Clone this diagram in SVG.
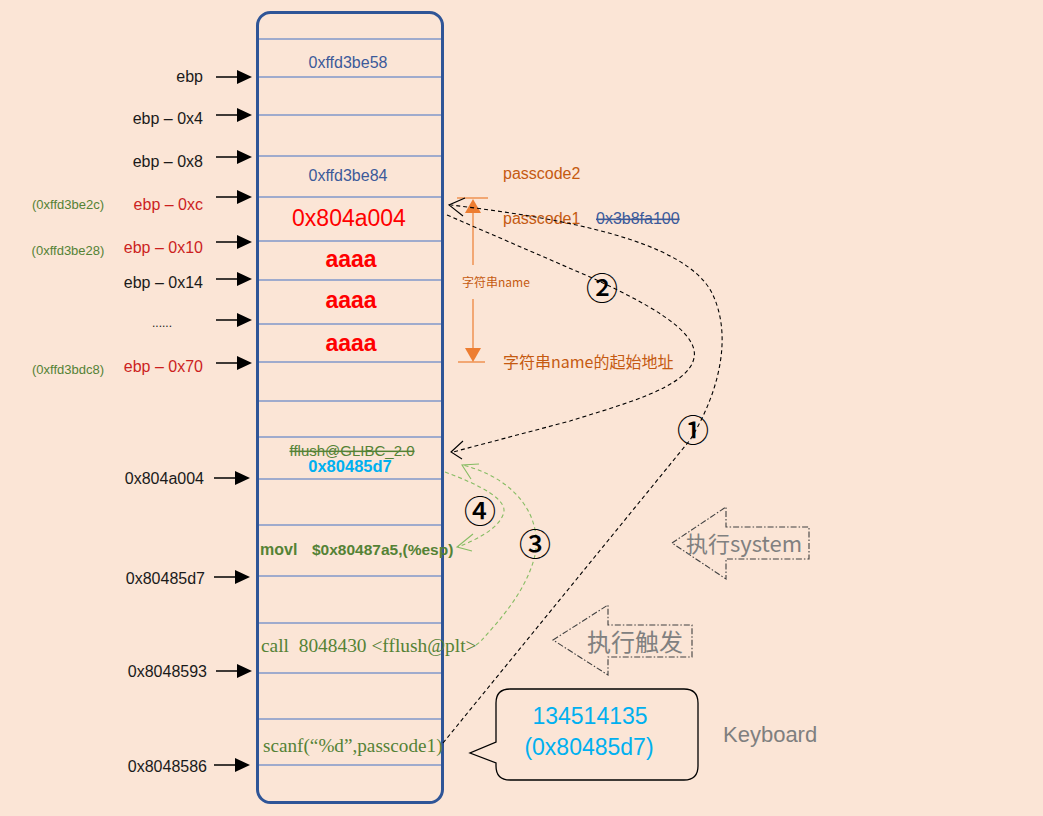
<svg xmlns="http://www.w3.org/2000/svg" width="1043" height="816" viewBox="0 0 1043 816">
<defs>
<style>
.s{font-family:"Liberation Sans",Arial,sans-serif}
.sr{font-family:"Liberation Serif","Times New Roman",serif}
.cj{font-family:"Noto Sans CJK SC",sans-serif}
.lbl{font-size:16px;fill:#1a1a1a;text-anchor:end}
.red{fill:#CC1F1F}
.addr{font-size:13px;fill:#548235;text-anchor:middle}
.row{stroke:#4472C4;stroke-width:1.2}
.la{stroke:#000;stroke-width:1.5}
.dash{fill:none;stroke:#000;stroke-width:1.1;stroke-dasharray:4 3}
.gdash{fill:none;stroke:#86BC63;stroke-width:1.1;stroke-dasharray:4 3}
.head{fill:none;stroke:#000;stroke-width:1.1}
.ghead{fill:none;stroke:#86BC63;stroke-width:1.1}
.num{font-size:32px;fill:#000;text-anchor:middle;font-weight:500}
.blk{fill:none;stroke:#404040;stroke-width:1.1;stroke-dasharray:6 2 1.5 2}
.or{stroke:#ED7D31;stroke-width:1.2}
</style>
</defs>
<rect width="1043" height="816" fill="#FBE5D6"/>

<g id="stack">
<rect x="257.5" y="12.5" width="185" height="790" rx="13" fill="none" stroke="#2F5597" stroke-width="3"/>
<g class="row">
<line x1="259" y1="39" x2="441" y2="39"/>
<line x1="259" y1="77" x2="441" y2="77"/>
<line x1="259" y1="115" x2="441" y2="115"/>
<line x1="259" y1="156" x2="441" y2="156"/>
<line x1="259" y1="197" x2="441" y2="197"/>
<line x1="259" y1="241" x2="441" y2="241"/>
<line x1="259" y1="280" x2="441" y2="280"/>
<line x1="259" y1="324" x2="441" y2="324"/>
<line x1="259" y1="362" x2="441" y2="362"/>
<line x1="259" y1="401" x2="441" y2="401"/>
<line x1="259" y1="437" x2="441" y2="437"/>
<line x1="259" y1="479" x2="441" y2="479"/>
<line x1="259" y1="525" x2="441" y2="525"/>
<line x1="259" y1="576" x2="441" y2="576"/>
<line x1="259" y1="623" x2="441" y2="623"/>
<line x1="259" y1="673" x2="441" y2="673"/>
<line x1="259" y1="719" x2="441" y2="719"/>
<line x1="259" y1="765" x2="441" y2="765"/>
</g>
<text class="s" x="348" y="68" font-size="16" fill="#3C5A9A" text-anchor="middle">0xffd3be58</text>
<text class="s" x="348" y="181" font-size="16" fill="#3C5A9A" text-anchor="middle">0xffd3be84</text>
<text class="s" x="349" y="226" font-size="23" fill="#FF0000" text-anchor="middle">0x804a004</text>
<text class="s" x="351" y="267" font-size="23" font-weight="bold" fill="#FF0000" text-anchor="middle">aaaa</text>
<text class="s" x="351" y="308" font-size="23" font-weight="bold" fill="#FF0000" text-anchor="middle">aaaa</text>
<text class="s" x="351" y="351" font-size="23" font-weight="bold" fill="#FF0000" text-anchor="middle">aaaa</text>
<text class="s" x="352" y="456" font-size="15" fill="#548235" text-anchor="middle" text-decoration="line-through">fflush@GLIBC_2.0</text>
<text class="s" x="350" y="472" font-size="16.5" font-weight="bold" fill="#00B0F0" text-anchor="middle">0x80485d7</text>
<text class="s" x="260" y="555" font-size="16" font-weight="bold" fill="#548235">movl</text>
<text class="s" x="312" y="555" font-size="15.5" font-weight="bold" fill="#548235">$0x80487a5,(%esp)</text>
<text class="sr" x="261" y="652" font-size="19.4" fill="#548235" xml:space="preserve">call  8048430 &lt;fflush@plt&gt;</text>
<text class="sr" x="263" y="752" font-size="19.2" fill="#548235">scanf(“%d”,passcode1)</text>
</g>

<g id="left-labels">
<g class="la">
<line x1="216" y1="77" x2="238" y2="77"/>
<line x1="216" y1="115" x2="238" y2="115"/>
<line x1="216" y1="157" x2="238" y2="157"/>
<line x1="216" y1="197" x2="238" y2="197"/>
<line x1="216" y1="242" x2="238" y2="242"/>
<line x1="216" y1="279" x2="238" y2="279"/>
<line x1="216" y1="320" x2="238" y2="320"/>
<line x1="216" y1="363" x2="238" y2="363"/>
<line x1="214" y1="478" x2="236" y2="478"/>
<line x1="214" y1="577" x2="236" y2="577"/>
<line x1="216" y1="671" x2="238" y2="671"/>
<line x1="214" y1="765" x2="236" y2="765"/>
</g>
<g fill="#000">
<polygon points="237,70 252,77 237,84"/>
<polygon points="237,108 252,115 237,122"/>
<polygon points="237,150 252,157 237,164"/>
<polygon points="237,190 252,197 237,204"/>
<polygon points="237,235 252,242 237,249"/>
<polygon points="237,272 252,279 237,286"/>
<polygon points="237,313 252,320 237,327"/>
<polygon points="237,356 252,363 237,370"/>
<polygon points="235,471 250,478 235,485"/>
<polygon points="235,570 250,577 235,584"/>
<polygon points="237,664 252,671 237,678"/>
<polygon points="235,758 250,765 235,772"/>
</g>
<text class="s lbl" x="203" y="82">ebp</text>
<text class="s lbl" x="203" y="124">ebp – 0x4</text>
<text class="s lbl" x="203" y="167">ebp – 0x8</text>
<text class="s lbl red" x="203" y="210">ebp – 0xc</text>
<text class="s lbl red" x="203" y="253">ebp – 0x10</text>
<text class="s lbl" x="203" y="288">ebp – 0x14</text>
<text class="s" x="162" y="327" font-size="12" fill="#1a1a1a" text-anchor="middle">......</text>
<text class="s lbl red" x="203" y="372">ebp – 0x70</text>
<text class="s addr" x="68" y="209">(0xffd3be2c)</text>
<text class="s addr" x="68" y="255">(0xffd3be28)</text>
<text class="s addr" x="68" y="374">(0xffd3bdc8)</text>
<text class="s lbl" x="204" y="484">0x804a004</text>
<text class="s lbl" x="205" y="584">0x80485d7</text>
<text class="s lbl" x="207" y="677">0x8048593</text>
<text class="s lbl" x="207" y="772">0x8048586</text>
</g>

<g id="annotations">
<text class="s" x="503" y="179" font-size="16" fill="#C55A11">passcode2</text>
<text class="s" x="503" y="224" font-size="16" fill="#C55A11">passcode1</text>
<text class="s" x="596" y="224" font-size="16" fill="#3C5A9A" text-decoration="line-through">0x3b8fa100</text>
<g class="or">
<line x1="457" y1="198" x2="488" y2="198"/>
<line x1="473" y1="212" x2="473" y2="265"/>
<line x1="473" y1="299" x2="473" y2="349"/>
<line x1="458" y1="362" x2="485" y2="362"/>
</g>
<polygon points="473,199 481,213 465,213" fill="#ED7D31"/>
<polygon points="473,362 481,348 465,348" fill="#ED7D31"/>
<text class="cj" x="462" y="287" font-size="12" fill="#C55A11">字符串name</text>
<text class="cj" x="503" y="368" font-size="16" fill="#C55A11">字符串name的起始地址</text>
</g>

<g id="connectors">
<path class="dash" d="M443,743 L690,440 C715,400 735,340 712,293 C685,240 560,218 451,205"/>
<polyline class="head" points="465,198 449,205 463,216"/>
<path class="dash" d="M447,215 L590,277 C640,300 700,330 694,358 C688,388 620,405 570,421 L453,452"/>
<polyline class="head" points="463,441 451,452 462,459"/>
<path class="gdash" d="M476,645 L480,642 C500,620 527,590 535,555 C542,520 520,480 463,465"/>
<polyline class="ghead" points="479,464 462,465 471,479"/>
<path class="gdash" d="M445,472 C480,485 510,500 503,515 C497,530 475,540 458,547"/>
<polyline class="ghead" points="473,534 457,547 472,551"/>
</g>

<g id="step-labels">
<text class="cj num" x="693" y="442">①</text>
<text class="cj num" x="602" y="300">②</text>
<text class="cj num" x="535" y="556">③</text>
<text class="cj num" x="480" y="523">④</text>
</g>

<g id="exec-system">
<polygon class="blk" points="672,543 726,507 726,527 809,527 809,559 726,559 726,579"/>
<text class="cj" x="686" y="552" font-size="22" fill="#808080">执行system</text>
</g>

<g id="exec-trigger">
<polygon class="blk" points="553,640 608,605 608,625 692,625 692,657 608,657 608,675"/>
<text class="cj" x="587" y="651" font-size="24" fill="#808080">执行触发</text>
</g>

<g id="keyboard-bubble">
<path d="M510,689 H684 Q698,689 698,703 V766 Q698,780 684,780 H510 Q496,780 496,766 V763 L470,753 L496,742 V703 Q496,689 510,689 Z" fill="none" stroke="#000" stroke-width="1.3"/>
<text class="s" x="590" y="724" font-size="23" fill="#00B0F0" text-anchor="middle">134514135</text>
<text class="s" x="589" y="755" font-size="23" fill="#00B0F0" text-anchor="middle">(0x80485d7)</text>
</g>
<text id="keyboard" class="s" x="723" y="742" font-size="22" fill="#7F7F7F">Keyboard</text>
</svg>
